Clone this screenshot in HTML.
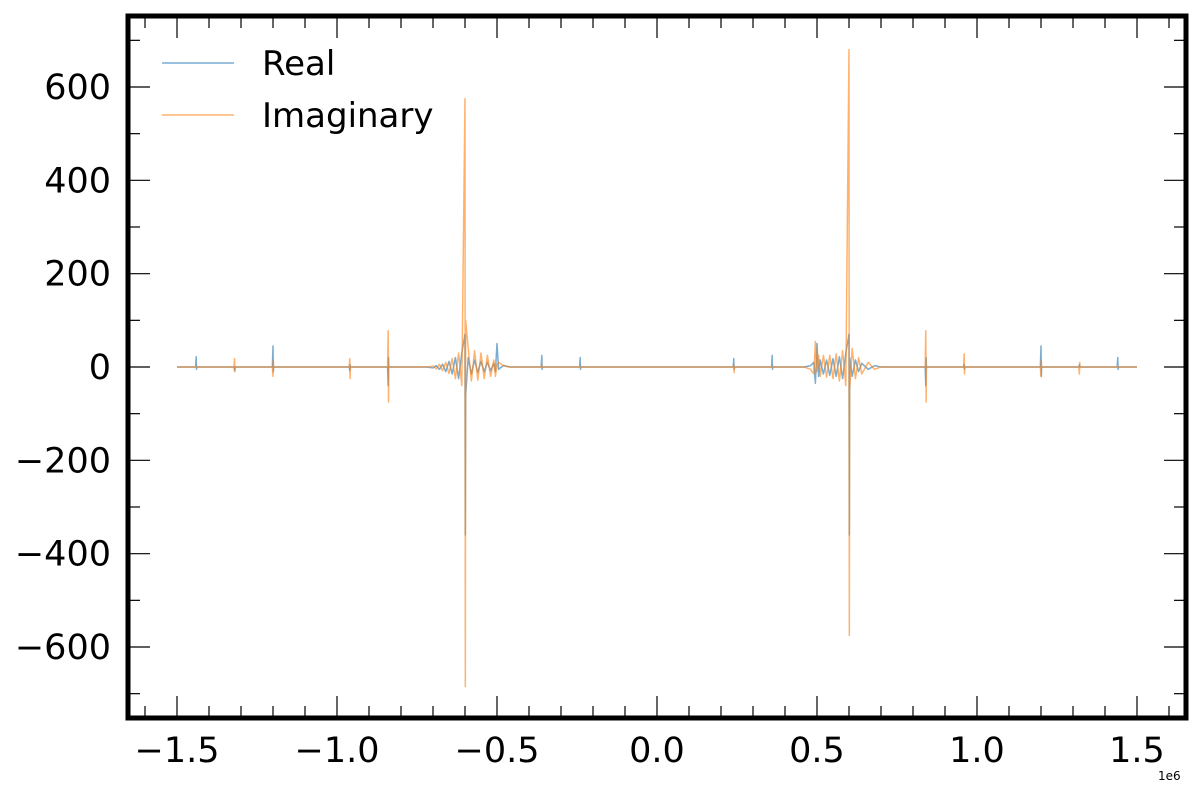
<!DOCTYPE html>
<html><head><meta charset="utf-8"><style>
html,body{margin:0;padding:0;background:#fff;}
svg{display:block;font-family:"DejaVu Sans","Liberation Sans",sans-serif;}
</style></head><body>
<svg id="chart" width="1200" height="800" viewBox="0 0 1200 800">
<g id="plot"></g>
<g id="axes"></g>
<rect x="128" y="16" width="1058" height="702" fill="none" stroke="#000" stroke-width="5"/>
<text x="1158" y="780" font-size="12">1e6</text>
<g>
<line x1="162" y1="63" x2="234" y2="63" stroke="#1f77b4" stroke-opacity="0.6" stroke-width="1.5"/>
<text x="262" y="75" font-size="34">Real</text>
<line x1="162" y1="115" x2="234" y2="115" stroke="#ff7f0e" stroke-opacity="0.6" stroke-width="1.5"/>
<text x="262" y="127" font-size="34">Imaginary</text>
</g>
</svg>
<script>
const xVals=[-1.5,-1.442,-1.44,-1.439,-1.438,-1.322,-1.32,-1.319,-1.318,-1.202,-1.2,-1.199,-1.198,-1.08,-0.962,-0.96,-0.959,-0.958,-0.842,-0.84,-0.839,-0.838,-0.72,
-0.70,-0.69,-0.68,-0.67,-0.66,-0.65,-0.64,-0.63,-0.62,-0.61,-0.6,-0.599,-0.598,-0.59,-0.58,-0.57,-0.56,-0.55,-0.54,-0.53,-0.52,-0.51,-0.505,-0.5,-0.495,-0.48,-0.46,
-0.362,-0.36,-0.359,-0.358,-0.242,-0.24,-0.239,-0.238,-0.12,0,0.238,0.24,0.241,0.242,0.358,0.36,0.361,0.362,
0.46,0.48,0.49,0.495,0.5,0.505,0.51,0.52,0.53,0.54,0.55,0.56,0.57,0.58,0.59,0.6,0.601,0.602,0.61,0.62,0.63,0.64,0.66,0.68,0.7,
0.838,0.84,0.841,0.842,0.958,0.96,0.961,0.962,1.08,1.198,1.2,1.201,1.202,1.318,1.32,1.321,1.322,1.438,1.44,1.441,1.442,1.5];
const realVals=[0,0,22,-5,0,0,-8,0,0,0,45,-10,0,0,0,-8,5,0,0,-40,20,0,0,
-2,3,-5,6,-10,12,-15,20,-25,30,70,-360,-60,20,-15,15,-12,12,-10,10,-8,8,-10,50,-5,3,0,
0,25,-5,0,0,20,-5,0,0,0,0,18,-5,0,0,25,-5,0,
0,3,10,-35,50,-20,15,-15,15,-18,18,-20,22,-25,30,70,-360,20,-20,15,-10,8,-5,3,0,
0,-40,20,0,0,5,-5,0,0,0,45,-20,0,0,5,0,0,0,20,-5,0,0];
const imagVals=[0,0,0,0,0,0,18,-10,0,0,-20,15,0,0,0,18,-25,0,0,78,-75,0,0,
2,-4,6,-8,10,-14,18,-25,30,-40,575,-685,100,40,-30,35,-28,30,-25,25,-20,15,-20,5,10,3,0,
0,5,0,0,0,0,0,0,0,0,0,5,-12,0,0,0,0,0,
0,-5,-15,55,-10,25,-20,25,-22,25,-25,28,-30,35,-40,680,-575,-50,40,-25,20,-15,10,-5,0,
0,78,-75,0,0,28,-15,0,0,0,-20,15,0,0,-15,10,0,0,0,0,0,0];
const xTicks=[-1.5,-1.0,-0.5,0.0,0.5,1.0,1.5];
const xTickLabels=["−1.5","−1.0","−0.5","0.0","0.5","1.0","1.5"];
const yTicks=[-600,-400,-200,0,200,400,600];
const yTickLabels=["−600","−400","−200","0","200","400","600"];

const X=v=>657+v*320;
const Y=v=>367-v*0.46667;
const NS="http://www.w3.org/2000/svg";
const plot=document.getElementById('plot'),axes=document.getElementById('axes');
function mk(tag,attrs,parent){const e=document.createElementNS(NS,tag);for(const k in attrs)e.setAttribute(k,attrs[k]);parent.appendChild(e);return e;}
function series(vals,color,name){
  let d='';xVals.forEach((x,i)=>{d+=(i?'L':'M')+X(x).toFixed(2)+','+Y(vals[i]).toFixed(2);});
  const p=mk('path',{d:d,fill:'none',stroke:color,'stroke-opacity':'0.6','stroke-width':'1.5','stroke-linejoin':'round'},plot);
  
  
}
series(realVals,'#1f77b4','real-series-line');
series(imagVals,'#ff7f0e','imag-series-line');
for(let k=-16;k<=16;k++){
  const v=k/10,px=X(v);if(px<130||px>1184)continue;
  const major=k%5===0,len=major?20:10;
  const b=mk('line',{x1:px,x2:px,y1:716,y2:716-len,stroke:'#000','stroke-width':1.2},axes);
  
  
  const t=mk('line',{x1:px,x2:px,y1:18,y2:18+len,stroke:'#000','stroke-width':1.2},axes);
  
  
}
xTicks.forEach((v,i)=>{
  const t=mk('text',{x:X(v),y:762,'font-size':35,'text-anchor':'middle'},axes);
  t.textContent=xTickLabels[i];
  
  
});
for(let v=-700;v<=700;v+=100){
  const py=Y(v);if(py<18||py>716)continue;
  const major=v%200===0,len=major?20:10;
  const l=mk('line',{x1:130,x2:130+len,y1:py,y2:py,stroke:'#000','stroke-width':1.2},axes);
  
  
  const r=mk('line',{x1:1184,x2:1184-len,y1:py,y2:py,stroke:'#000','stroke-width':1.2},axes);
  
  
}
yTicks.forEach((v,i)=>{
  const t=mk('text',{x:111,y:Y(v)+12,'font-size':35,'text-anchor':'end'},axes);
  t.textContent=yTickLabels[i];
  
  
});
</script>
</body></html>
